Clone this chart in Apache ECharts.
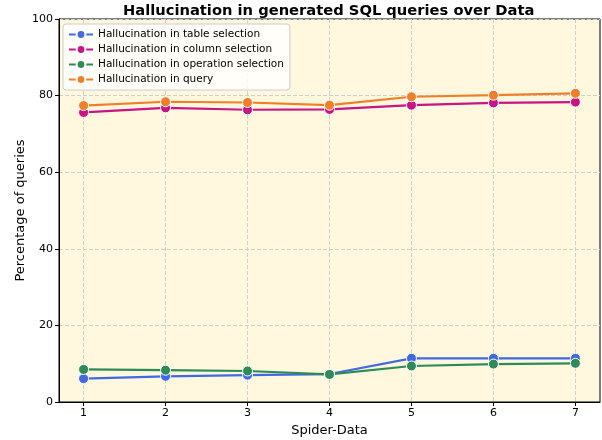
<!DOCTYPE html>
<html>
<head>
<meta charset="utf-8">
<script src="https://cdn.jsdelivr.net/npm/echarts@6/dist/echarts.min.js"></script>
<style>
  html, body { margin: 0; padding: 0; background: #fff; }
  #chart { width: 602px; height: 440px; }
</style>
</head>
<body>
<div id="chart"></div>
<script>
// 数据
const xValues = [1, 2, 3, 4, 5, 6, 7];
const yTicks = [0, 20, 40, 60, 80, 100];
const tableSel = [6.1, 6.7, 7.0, 7.3, 11.4, 11.4, 11.4];
const columnSel = [75.6, 76.8, 76.3, 76.4, 77.5, 78.1, 78.3];
const operationSel = [8.5, 8.3, 8.1, 7.2, 9.4, 9.9, 10.1];
const querySel = [77.4, 78.4, 78.2, 77.5, 79.7, 80.1, 80.6];

const seriesNames = [
    'Hallucination in table selection',
    'Hallucination in column selection',
    'Hallucination in operation selection',
    'Hallucination in query'
];
const seriesColors = ['#4169e1', '#c71585', '#2e8b57', '#f07f2a'];
const seriesData = [tableSel, columnSel, operationSel, querySel];

const chart = echarts.init(document.getElementById('chart'));

const font = 'DejaVu Sans';

const option = {
    animation: false,
    title: {
        text: 'Hallucination in generated SQL queries over Data',
        left: 118,
        top: -1,
        textStyle: { fontFamily: font, fontSize: 14.7, fontWeight: 'bold', color: '#000' }
    },
    legend: {
        orient: 'vertical',
        left: 63,
        top: 24,
        itemWidth: 24,
        itemHeight: 11,
        itemGap: 4,
        padding: [5, 6, 5, 5],
        backgroundColor: 'rgba(255,255,255,0.8)',
        borderColor: '#ccc',
        borderWidth: 1,
        borderRadius: 3,
        textStyle: { fontFamily: font, fontSize: 10.5, color: '#000' },
        data: seriesNames
    },
    grid: {
        left: 59,
        right: 2,
        top: 19,
        bottom: 38,
        outerBoundsMode: 'none',
        show: true,
        backgroundColor: '#fff7de',
        borderColor: '#000',
        borderWidth: 1
    },
    xAxis: {
        type: 'value',
        min: 0.7,
        max: 7.3,
        name: 'Spider-Data',
        nameLocation: 'middle',
        nameMoveOverlap: false,
        nameGap: 22,
        nameTextStyle: { fontFamily: font, fontSize: 13, color: '#000', verticalAlign: 'top' },
        axisLine: { onZero: false, lineStyle: { color: '#000' } },
        axisTick: { customValues: xValues, length: 4, lineStyle: { color: '#000' } },
        axisLabel: { customValues: xValues, fontFamily: font, fontSize: 11, color: '#000', margin: 6 },
        splitLine: { show: true, lineStyle: { type: [4, 2], color: '#cfcfcf', width: 1 } }
    },
    yAxis: {
        type: 'value',
        min: 0,
        max: 100,
        interval: 20,
        name: 'Percentage of queries',
        nameLocation: 'middle',
        nameMoveOverlap: false,
        nameGap: 32,
        nameTextStyle: { fontFamily: font, fontSize: 13, color: '#000' },
        axisLine: { show: true, lineStyle: { color: '#000' } },
        axisTick: { show: true, length: 4, lineStyle: { color: '#000' } },
        axisLabel: { fontFamily: font, fontSize: 11, color: '#000', margin: 6 },
        splitLine: { show: true, lineStyle: { type: [4, 2], color: '#cfcfcf', width: 1 } }
    },
    series: seriesNames.map(function(name, i) {
        return {
            name: name,
            type: 'line',
            data: xValues.map(function(x, j) { return [x, seriesData[i][j]]; }),
            symbol: 'circle',
            symbolSize: 10,
            lineStyle: { color: seriesColors[i], width: 2.2 },
            itemStyle: { color: seriesColors[i], borderColor: '#fff', borderWidth: 1 }
        };
    })
};

chart.setOption(option);
</script>
</body>
</html>
